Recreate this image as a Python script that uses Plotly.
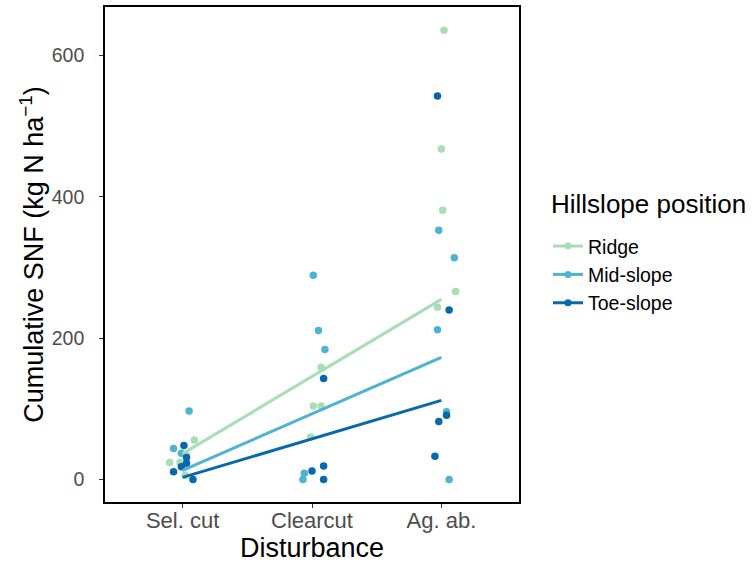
import plotly.graph_objects as go

categories = ["Sel. cut", "Clearcut", "Ag. ab."]
groups = ["Ridge", "Mid-slope", "Toe-slope"]
colors = ["#a8ddb5", "#4eb3d3", "#0868ac"]

# jittered category positions (1 = Sel. cut, 2 = Clearcut, 3 = Ag. ab.) and values
ridge_x = [1.09, 1.03, 0.90, 0.98, 1.02, 2.07, 2.01, 2.07, 1.99, 3.02, 3.00, 3.01, 3.11, 2.97]
ridge_y = [56, 34, 24, 24, 6, 159, 104, 104, 60, 636, 468, 381, 266, 244]
mid_x = [1.05, 0.93, 0.99, 2.01, 2.05, 2.10, 1.94, 1.93, 2.98, 3.10, 2.97, 3.04, 3.06]
mid_y = [97, 44, 37, 289, 211, 184, 9, 0, 353, 314, 212, 96, 0]
toe_x = [1.01, 1.03, 1.03, 0.99, 0.93, 1.08, 2.09, 2.00, 2.09, 2.09, 2.97, 3.06, 3.04, 2.98, 2.95]
toe_y = [48, 31, 23, 18, 11, 0, 143, 12, 19, 0, 543, 240, 91, 82, 33]

# fitted trend values at the three disturbance levels
fit_x = [1, 2, 3]
ridge_fit = [36.6, 145.8, 255]
mid_fit = [13, 93, 173]
toe_fit = [3, 57.5, 112]

pts = [(ridge_x, ridge_y), (mid_x, mid_y), (toe_x, toe_y)]
fits = [ridge_fit, mid_fit, toe_fit]

fig = go.Figure()
for (px, py), c in zip(pts, colors):
    fig.add_trace(go.Scatter(x=px, y=py, mode="markers", showlegend=False,
                             marker=dict(color=c, size=7.5, line=dict(width=0))))
for f, c in zip(fits, colors):
    fig.add_trace(go.Scatter(x=fit_x, y=f, mode="lines", showlegend=False,
                             line=dict(color=c, width=3)))
for g, c in zip(groups, colors):
    fig.add_trace(go.Scatter(x=[None], y=[None], mode="lines+markers", name=g,
                             line=dict(color=c, width=3),
                             marker=dict(color=c, size=7)))

font = "Liberation Sans, Arial, sans-serif"
fig.update_layout(
    width=755, height=565,
    margin=dict(l=105, r=236, t=5, b=63),
    paper_bgcolor="white", plot_bgcolor="white",
    font=dict(family=font, color="black"),
    showlegend=True,
    legend=dict(x=1.07, xanchor="left", y=0.4588, yanchor="middle",
                font=dict(size=19.5, color="black"), tracegroupgap=2,
                itemwidth=30),
    annotations=[dict(text="Hillslope position", xref="paper", yref="paper",
                      x=1.0725, y=0.6016, xanchor="left", yanchor="middle",
                      showarrow=False, font=dict(size=26, color="black"))],
    xaxis=dict(range=[0.4, 3.6], tickvals=[1, 2, 3], ticktext=categories,
               showgrid=False, zeroline=False, showline=True, mirror=True,
               linecolor="black", linewidth=1.6,
               ticks="outside", ticklen=4, tickcolor="#333333", tickwidth=1,
               ticklabelstandoff=-6,
               tickfont=dict(size=22, color="#4d4d4d"),
               title=dict(text="Disturbance", font=dict(size=27, color="black"), standoff=6)),
    yaxis=dict(range=[-31.85, 668.85], tickvals=[0, 200, 400, 600],
               showgrid=False, zeroline=False, showline=True, mirror=True,
               linecolor="black", linewidth=1.6,
               ticks="outside", ticklen=4, tickcolor="#333333", tickwidth=1,
               ticklabelstandoff=11,
               tickfont=dict(size=19.5, color="#4d4d4d"),
               title=dict(text="Cumulative SNF (kg N ha<sup>−1</sup>)",
                          font=dict(size=27, color="black"), standoff=0)),
)

fig.write_html("out.html", config={"displayModeBar": False},
               post_script="document.body.style.margin='0px';")
